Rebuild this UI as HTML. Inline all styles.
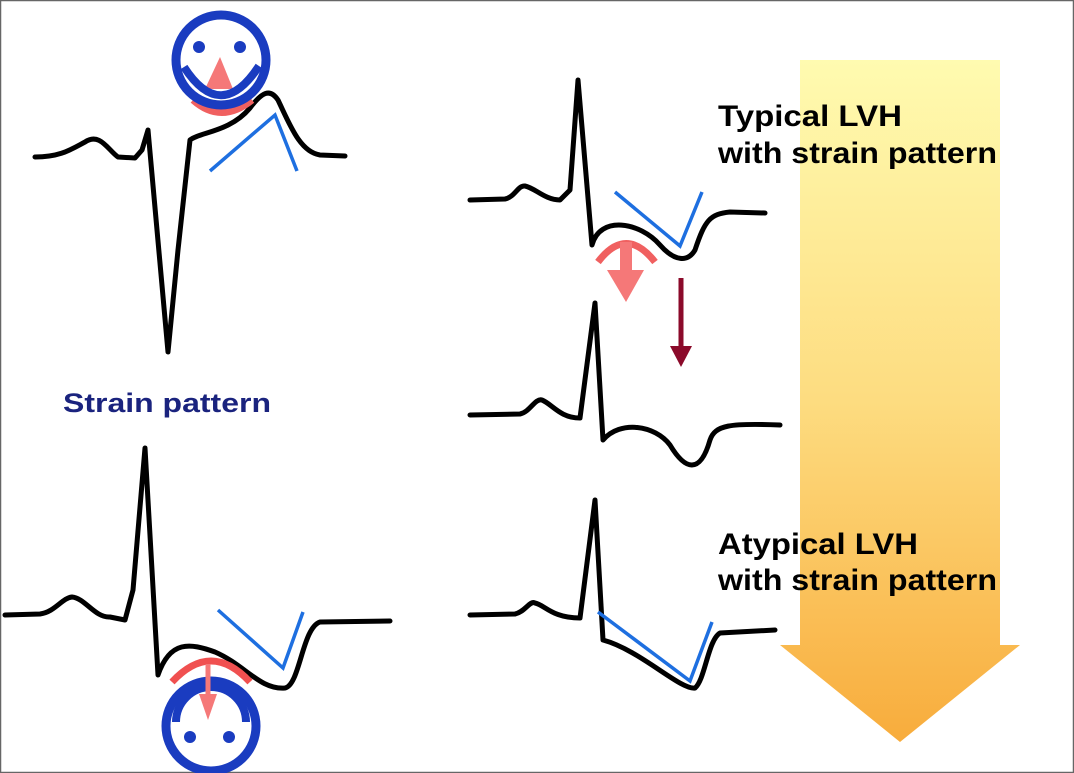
<!DOCTYPE html>
<html><head><style>
html,body{margin:0;padding:0;background:#fff;}
svg{display:block;}
text{font-family:"Liberation Sans",sans-serif;font-weight:bold;}
</style></head><body>
<svg width="1074" height="773" viewBox="0 0 1074 773" xmlns="http://www.w3.org/2000/svg">
<defs>
<linearGradient id="g" x1="0" y1="0" x2="0" y2="1">
<stop offset="0" stop-color="#fffbb0"/>
<stop offset="0.5" stop-color="#fddc80"/>
<stop offset="1" stop-color="#f8ac3c"/>
</linearGradient>
</defs>
<rect x="0.5" y="0.5" width="1073" height="772" fill="#fff" stroke="#666" stroke-width="1.5"/>
<path d="M800 60 L1000 60 L1000 645 L1020 645 L900 742 L780 645 L800 645 Z" fill="url(#g)"/>

<g fill="none" stroke="#000" stroke-width="5" stroke-linejoin="round" stroke-linecap="round">
<path d="M35 157 C60 157 70 150 85 142 C100 132 108 150 118 157 L135 158 L142 150 L148 130 L168 352 L178 250 L190 140 C200 132 230 132 250 108 C262 92 270 88 278 100 C290 125 300 152 320 155 L345 156"/>
<path d="M5 615 L40 614 C55 612 62 598 72 597 C85 598 95 618 110 617 L125 620 L133 590 L145 448 L158 675 C170 640 190 643 215 652 C245 665 260 690 285 688 C300 685 302 628 320 622 L390 621"/>
<path d="M470 200 L505 199 C515 197 518 185 525 186 C535 188 545 200 560 200 L570 190 L578 80 L592 245 C600 215 640 222 660 245 C675 262 688 262 695 250 C705 220 710 214 730 212 L765 213"/>
<path d="M470 415 L520 414 C530 412 535 398 542 400 C552 404 560 418 580 418 L595 303 L603 440 C620 420 655 425 670 445 C685 470 700 475 710 440 C715 425 730 423 780 425"/>
<path d="M470 615 L515 614 C525 612 530 600 535 603 C545 605 552 618 580 618 L595 500 L603 640 C640 650 680 690 695 688 C705 680 708 640 720 633 L775 630"/>
</g>

<g fill="none" stroke="#1e6fe0" stroke-width="3.5">
<path d="M210 171 L275 115 L297 171"/>
<path d="M218 610 L283 668 L303 612"/>
<path d="M615 192 L680 246 L702 192"/>
<path d="M598 612 L690 681 L712 622"/>
</g>

<!-- top face -->
<path d="M193 100 Q221 125 252 100" fill="none" stroke="#f06060" stroke-width="7"/>
<circle cx="221" cy="60" r="45" fill="#fff" fill-opacity="0" stroke="#1a3cc0" stroke-width="9"/>
<circle cx="199" cy="47" r="6" fill="#1a3cc0"/>
<circle cx="240" cy="47" r="6" fill="#1a3cc0"/>
<polygon points="220,57 205,89 233,89" fill="#f57878"/>
<path d="M184 67 Q221 124 259 66" fill="none" stroke="#1a3cc0" stroke-width="8"/>

<!-- bottom face -->
<path d="M172 682 Q211 640 250 682" fill="none" stroke="#f05050" stroke-width="7"/>
<circle cx="211" cy="726" r="45" fill="none" stroke="#1a3cc0" stroke-width="9"/>
<path d="M176 722 A35 35 0 0 1 246 722" fill="none" stroke="#1a3cc0" stroke-width="8"/>
<polygon points="199,694 217,694 208,720" fill="#f57878"/>
<line x1="208" y1="664" x2="208" y2="696" stroke="#f57878" stroke-width="5"/>
<circle cx="190" cy="737" r="6" fill="#1a3cc0"/>
<circle cx="229" cy="737" r="6" fill="#1a3cc0"/>

<!-- right arrows -->
<path d="M598 262 Q626 225 655 262" fill="none" stroke="#f06060" stroke-width="7"/>
<line x1="626" y1="242" x2="626" y2="275" stroke="#f57878" stroke-width="12"/>
<polygon points="607,270 644,270 626,302" fill="#f57878"/>
<line x1="681" y1="278" x2="681" y2="350" stroke="#8b0a2a" stroke-width="5"/>
<polygon points="670,346 692,346 681,367" fill="#8b0a2a"/>

<text x="63" y="412" font-size="27" fill="#1a237e" textLength="208" lengthAdjust="spacingAndGlyphs">Strain pattern</text>
<text x="718" y="126" font-size="30" fill="#000" textLength="184" lengthAdjust="spacingAndGlyphs">Typical LVH</text>
<text x="718" y="163" font-size="30" fill="#000" textLength="279" lengthAdjust="spacingAndGlyphs">with strain pattern</text>
<text x="718" y="554" font-size="30" fill="#000" textLength="200" lengthAdjust="spacingAndGlyphs">Atypical LVH</text>
<text x="718" y="590" font-size="30" fill="#000" textLength="279" lengthAdjust="spacingAndGlyphs">with strain pattern</text>
</svg>
</body></html>
